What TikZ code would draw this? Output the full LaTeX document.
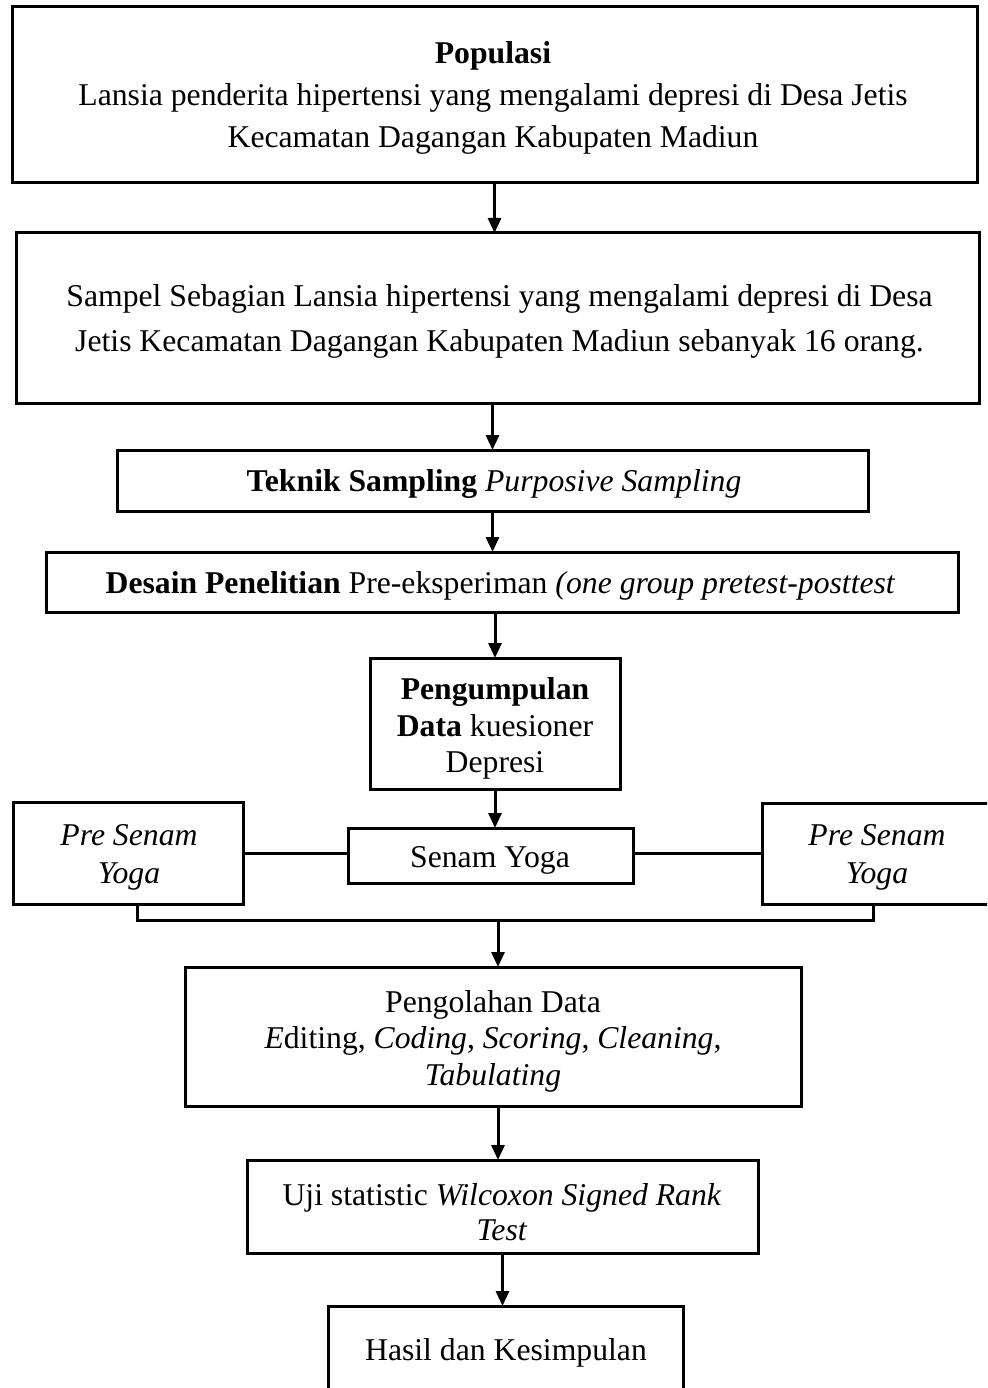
\documentclass[tikz,border=0pt]{standalone}
\usepackage{fontspec}
\setmainfont{Liberation Serif}
\usetikzlibrary{arrows.meta}
\begin{document}
\begin{tikzpicture}[x=1pt,y=-1pt,
  box/.style={draw=black, line width=3pt, inner sep=0pt, outer sep=0pt, rectangle},
  txt/.style={align=center, inner sep=0pt, outer sep=0pt},
  big/.style={font=\fontsize{31.7}{42}\selectfont},
  mid/.style={font=\fontsize{31.7}{36.5}\selectfont},
  arr/.style={line width=3pt, -{Triangle[width=13pt,length=15pt]}},
  link/.style={line width=3pt}]
\clip (0,0) rectangle (987,1388);
\fill[white] (0,0) rectangle (987,1388);

% boxes
\node[box, minimum width=965pt, minimum height=176pt] (pop) at (494.5,95) {};
\node[box, minimum width=963pt, minimum height=170pt] (sam) at (497.5,318) {};
\node[box, minimum width=751pt, minimum height=61pt] (tek) at (492.5,480.5) {};
\node[box, minimum width=912pt, minimum height=60pt] (des) at (502,582) {};
\node[box, minimum width=250pt, minimum height=131pt] (peng) at (495,723.5) {};
\node[box, minimum width=285pt, minimum height=55pt] (senam) at (490.5,855.5) {};
\node[box, minimum width=230pt, minimum height=102pt] (preL) at (128,853) {};
\node[box, minimum width=230pt, minimum height=101pt] (preR) at (877,853.5) {};
\node[box, minimum width=616pt, minimum height=139pt] (olah) at (493,1036.5) {};
\node[box, minimum width=511pt, minimum height=93pt] (uji) at (502.5,1206.5) {};
\node[box, minimum width=355pt, minimum height=92pt] (hasil) at (505.5,1352) {};

% texts
\node[txt, big] (popT) at (493,97.5) {\textbf{Populasi}\\Lansia penderita hipertensi yang mengalami depresi di Desa Jetis\\Kecamatan Dagangan Kabupaten Madiun};
\node[txt, font=\fontsize{31.7}{45}\selectfont] (samT) at (499.5,321) {Sampel Sebagian Lansia hipertensi yang mengalami depresi di Desa\\Jetis Kecamatan Dagangan Kabupaten Madiun sebanyak 16 orang.};
\node[txt, big] (tekT) at (494,483.5) {\textbf{Teknik Sampling} \textit{Purposive Sampling}};
\node[txt, big] (desT) at (500.5,586) {\textbf{Desain Penelitian} Pre-eksperiman \textit{(one group pretest-posttest}};
\node[txt, mid] (pengT) at (495,728.5) {\textbf{Pengumpulan}\\\textbf{Data} kuesioner\\Depresi};
\node[txt, mid] (senamT) at (490,860.5) {Senam Yoga};
\node[txt, font=\fontsize{31.7}{38}\selectfont] (preLT) at (129,857) {\textit{Pre Senam}\\\textit{Yoga}};
\node[txt, font=\fontsize{31.7}{38}\selectfont] (preRT) at (877,857) {\textit{Pre Senam}\\\textit{Yoga}};
\node[txt, mid] (olahT) at (493,1041) {Pengolahan Data\\\textit{E}diting, \textit{Coding}, \textit{Scoring}, \textit{Cleaning},\\\textit{Tabulating}};
\node[txt, font=\fontsize{31.7}{35}\selectfont] (ujiT) at (502,1212) {Uji statistic \textit{Wilcoxon Signed Rank}\\\textit{Test}};
\node[txt, mid] (hasilT) at (506,1352.5) {Hasil dan Kesimpulan};

% connectors
\draw[arr] (pop.south) -- (pop.south |- sam.north);
\draw[arr] (tek.north |- sam.south) -- (tek.north);
\draw[arr] (tek.south) -- (tek.south |- des.north);
\draw[arr] (peng.north |- des.south) -- (peng.north);
\draw[arr] (peng.south) -- (peng.south |- senam.north);
\draw[link] (preL.east) -- (preL.east -| senam.west);
\draw[link] (senam.east |- preR.west) -- (preR.west);
\coordinate (bl) at (137,920);
\coordinate (br) at (873,920);
\coordinate (bm) at (498,920);
\draw[link] (preL.south -| bl) -- (bl) -- (br) -- (preR.south -| br);
\draw[arr] (bm) -- (bm |- olah.north);
\draw[arr] ([xshift=5pt]olah.south) -- ([xshift=5pt]olah.south |- uji.north);
\draw[arr] (uji.south) -- (uji.south |- hasil.north);
\end{tikzpicture}
\end{document}
